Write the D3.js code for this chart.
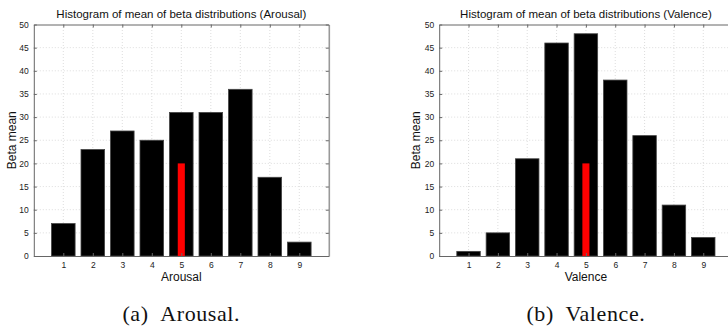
<!DOCTYPE html>
<html>
<head>
<meta charset="utf-8">
<script src="https://cdn.jsdelivr.net/npm/d3@7/dist/d3.min.js"></script>
<style>
  html, body { margin: 0; padding: 0; background: #fff; }
  svg { display: block; }
</style>
</head>
<body>
<svg id="fig" width="728" height="327"></svg>
<script>
// Bins (rating levels) shared by both histograms
const categories = [1, 2, 3, 4, 5, 6, 7, 8, 9];
// Counts per bin
const arousalCounts = [7, 23, 27, 25, 31, 31, 36, 17, 3];
const valenceCounts = [1, 5, 21, 46, 48, 38, 26, 11, 4];
// Highlighted mean marker drawn over bin 5
const markerCategory = [5];
const markerValue = [20];
// Axis ticks
const yTicks = [0, 5, 10, 15, 20, 25, 30, 35, 40, 45, 50];
const xTicks = categories;

const svg = d3.select("#fig");
const sans = "'Liberation Sans', Arial, Helvetica, sans-serif";
const serif = "'Liberation Serif', 'Times New Roman', serif";

function panel(opts) {
  const x = d3.scaleLinear().domain([0, 10]).range([opts.x0, opts.x1]);
  const y = d3.scaleLinear().domain([0, 50]).range([256, 24.5]);
  const g = svg.append("g");

  // grid
  g.append("g").selectAll("line").data(xTicks).join("line")
    .attr("x1", d => x(d)).attr("x2", d => x(d))
    .attr("y1", y(0)).attr("y2", y(50))
    .attr("stroke", "#d4d4d4").attr("stroke-width", 0.8)
    .attr("stroke-dasharray", "1,2");
  g.append("g").selectAll("line").data(yTicks.slice(1, -1)).join("line")
    .attr("x1", x(0)).attr("x2", x(10))
    .attr("y1", d => y(d)).attr("y2", d => y(d))
    .attr("stroke", "#d4d4d4").attr("stroke-width", 0.8)
    .attr("stroke-dasharray", "1,2");

  // bars
  const bw = 0.8;
  g.append("g").selectAll("rect").data(categories).join("rect")
    .attr("x", (d) => x(d - bw / 2))
    .attr("width", (d) => x(d + bw / 2) - x(d - bw / 2))
    .attr("y", (d, i) => y(opts.counts[i]))
    .attr("height", (d, i) => y(0) - y(opts.counts[i]))
    .attr("fill", "#000").attr("stroke", "#444").attr("stroke-width", 0.8);

  // highlighted marker bar
  const mw = 0.24;
  g.append("g").selectAll("rect").data(markerCategory).join("rect")
    .attr("x", d => x(d - mw / 2))
    .attr("width", d => x(d + mw / 2) - x(d - mw / 2))
    .attr("y", (d, i) => y(markerValue[i]))
    .attr("height", (d, i) => y(0) - y(markerValue[i]))
    .attr("fill", "#ff0000");

  // axes (inward ticks, box)
  const axL = g.append("g").attr("transform", `translate(${x(0)},0)`)
    .call(d3.axisLeft(y).tickValues(yTicks).tickSizeInner(-3).tickSizeOuter(0).tickPadding(5));
  const axR = g.append("g").attr("transform", `translate(${x(10)},0)`)
    .call(d3.axisRight(y).tickValues(yTicks).tickSizeInner(-3).tickSizeOuter(0).tickFormat(""));
  const axB = g.append("g").attr("transform", `translate(0,${y(0)})`)
    .call(d3.axisBottom(x).tickValues(xTicks).tickSizeInner(-3).tickSizeOuter(0).tickPadding(6));
  const axT = g.append("g").attr("transform", `translate(0,${y(50)})`)
    .call(d3.axisTop(x).tickValues(xTicks).tickSizeInner(-3).tickSizeOuter(0).tickFormat(""));
  [axL, axR, axB, axT].forEach(a => {
    a.selectAll(".domain").attr("stroke", "#666").attr("stroke-width", 1);
    a.selectAll(".tick line").attr("stroke", "#666");
    a.selectAll("text").attr("font-family", sans).attr("font-size", 8.5).attr("fill", "#222");
  });
  axR.select(".domain").attr("stroke", "#999").attr("stroke-width", 1.6);

  // titles
  const cx = (x(0) + x(10)) / 2;
  g.append("text").attr("x", cx).attr("y", 18)
    .attr("text-anchor", "middle").attr("font-family", sans).attr("font-size", 11.5)
    .attr("fill", "#111").text(opts.title);
  g.append("text").attr("x", cx).attr("y", 281)
    .attr("text-anchor", "middle").attr("font-family", sans).attr("font-size", 12)
    .attr("fill", "#111").text(opts.xlabel);
  g.append("text")
    .attr("transform", `translate(${opts.ylabelX},${y(25)}) rotate(-90)`)
    .attr("text-anchor", "middle").attr("font-family", sans).attr("font-size", 12)
    .attr("fill", "#111").text("Beta mean");
  g.append("text").attr("x", cx).attr("y", 321)
    .attr("text-anchor", "middle").attr("font-family", serif).attr("font-size", 22)
    .attr("letter-spacing", 0.6)
    .attr("fill", "#111").text(opts.caption);
}

panel({ x0: 33.8, x1: 328.8, counts: arousalCounts,
  title: "Histogram of mean of beta distributions (Arousal)",
  xlabel: "Arousal", caption: "(a)\u2002Arousal.", ylabelX: 16 });
panel({ x0: 439.2, x1: 732.6, counts: valenceCounts,
  title: "Histogram of mean of beta distributions (Valence)",
  xlabel: "Valence", caption: "(b)\u2002Valence.", ylabelX: 420 });
</script>
</body>
</html>
